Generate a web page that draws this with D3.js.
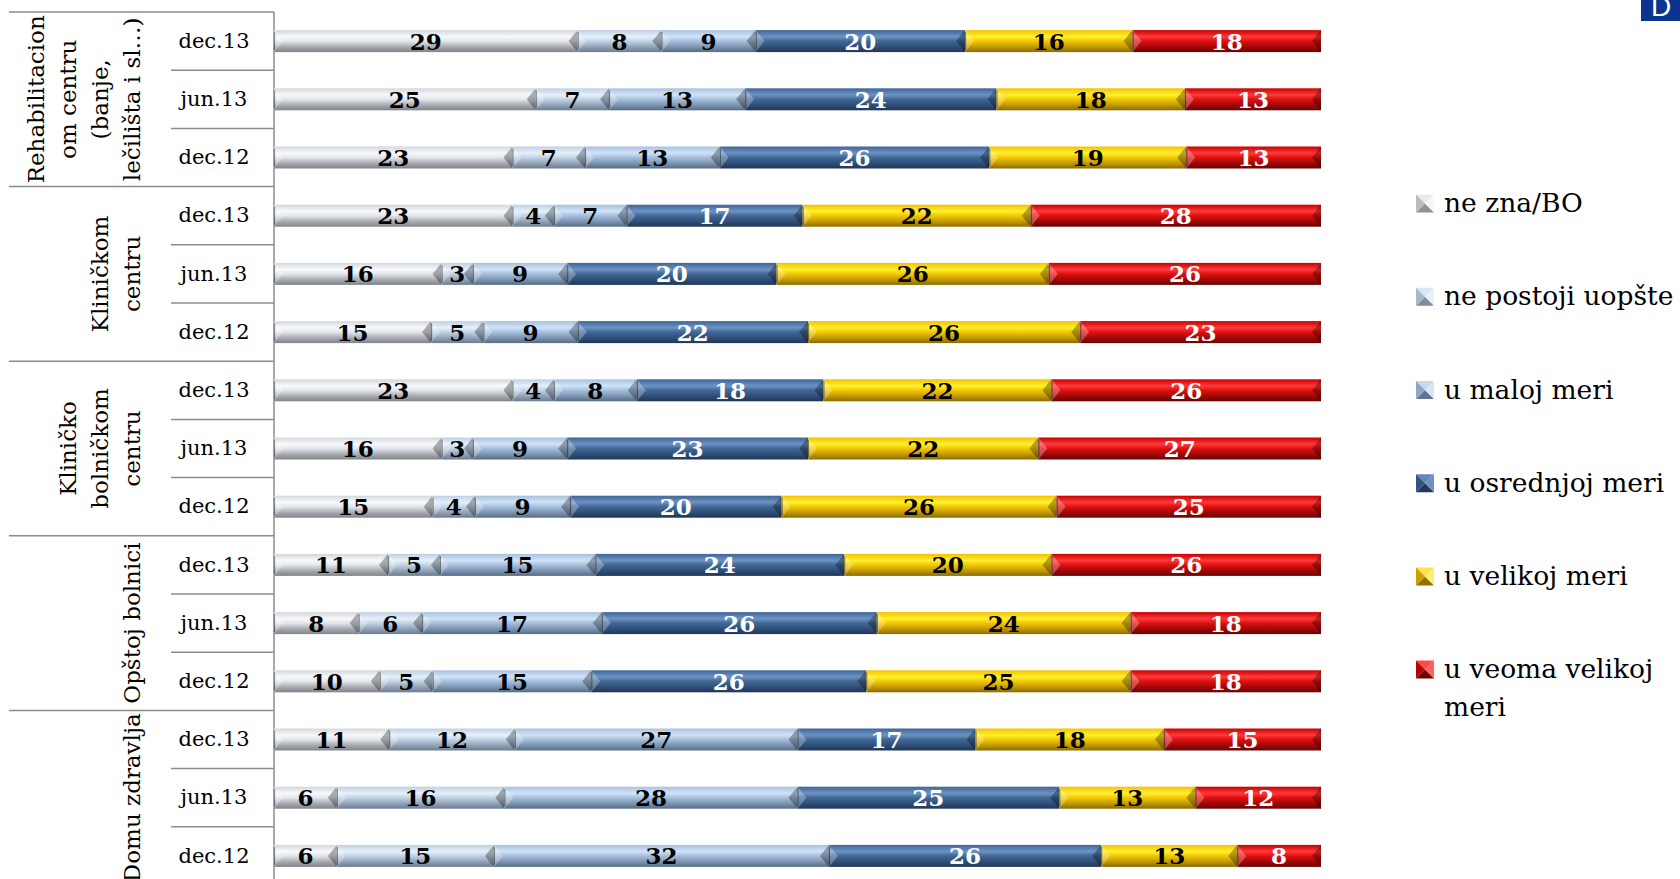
<!DOCTYPE html>
<html><head><meta charset="utf-8">
<script src="https://cdn.jsdelivr.net/npm/d3@7"></script>
<style>body{margin:0;background:#fff;overflow:hidden} svg{display:block}</style>
</head><body>
<svg id="c" width="1680" height="879"></svg>
<script>
// ---------- data ----------
const groupLabels = [
  ["Rehabilitacion","om centru","(banje,","lečilišta i sl…)"],
  ["Kliničkom","centru"],
  ["Kliničko","bolničkom","centru"],
  ["Opštoj bolnici"],
  ["Domu zdravlja"]
];
const periods = ["dec.13","jun.13","dec.12"];
const seriesNames = ["ne zna/BO","ne postoji uopšte","u maloj meri","u osrednjoj meri","u velikoj meri","u veoma velikoj meri"];
const neZna        = [29,25,23, 23,16,15, 23,16,15, 11, 8,10, 11, 6, 6];
const nePostoji    = [ 8, 7, 7,  4, 3, 5,  4, 3, 4,  5, 6, 5, 12,16,15];
const maloj        = [ 9,13,13,  7, 9, 9,  8, 9, 9, 15,17,15, 27,28,32];
const osrednjoj    = [20,24,26, 17,20,22, 18,23,20, 24,26,26, 17,25,26];
const velikoj      = [16,18,19, 22,26,26, 22,22,26, 20,24,25, 18,13,13];
const veomaVelikoj = [18,13,13, 28,26,23, 26,27,25, 26,18,18, 15,12, 8];
const seriesValues = [neZna, nePostoji, maloj, osrednjoj, velikoj, veomaVelikoj];

// ---------- style ----------
const gradStops = [
  ["#d3d7dc","#f7f9fc","#e3e6ea","#a4a8ae","#7f838a"],
  ["#bfd0e3","#e6f0fa","#c3d3e6","#8fa0b4","#6b7c91"],
  ["#a9c1de","#d0e3f7","#a5bfdd","#7a92ae","#566c86"],
  ["#3f6697","#6c93c4","#416894","#2e4d76","#203656"],
  ["#f2c200","#fff030","#f3c800","#c09600","#8a6c00"],
  ["#c80000","#ff3a3a","#e01010","#9c0808","#6a0404"]
];
const labelColors = ["#000","#000","#000","#fff","#000","#fff"];
const legendFaces = [
  ["#e9ecef","#8e9399","#f4f6f8","#b9bdc2"],
  ["#dbe7f3","#7f8fa3","#e8f0f8","#a9b9cc"],
  ["#c5d8ee","#5f7692","#d6e5f4","#8ea7c5"],
  ["#5f88bb","#22395a","#6a92c2","#34547e"],
  ["#ffe14a","#8f7000","#fff06a","#c9a000"],
  ["#ff4a4a","#6e0404","#ff6060","#b00808"]
];

const W = 1680, H = 879;
const tableLeft = 9, periodLeft = 171, axisX = 274, barRight = 1321;
const topY = 12, rowStep = 58.2, barH = 22;

const rows = [];
groupLabels.forEach((g,gi)=>periods.forEach((p,pi)=>{
  const i = gi*3+pi;
  const r = {id:i, group:gi, period:p};
  seriesNames.forEach((s,si)=> r[s] = seriesValues[si][i]);
  rows.push(r);
}));

const svg = d3.select("#c");
const defs = svg.append("defs");
gradStops.forEach((st,i)=>{
  const g = defs.append("linearGradient").attr("id","g"+i).attr("x1",0).attr("x2",0).attr("y1",0).attr("y2",1);
  [0,0.3,0.5,0.78,1].forEach((o,k)=> g.append("stop").attr("offset",o).attr("stop-color",st[k]));
});

const y = d3.scaleBand().domain(rows.map(r=>r.id)).range([topY, topY+rows.length*rowStep]).padding(0);
const x = d3.scaleLinear().domain([0,1]).range([axisX, barRight]);
const stacked = d3.stack().keys(seriesNames).offset(d3.stackOffsetExpand)(rows);

// ---------- table lines ----------
const lineColor = "#8c8c8c";
const tbl = svg.append("g").attr("stroke",lineColor).attr("stroke-width",1.5);
tbl.append("line").attr("x1",tableLeft).attr("x2",axisX).attr("y1",topY).attr("y2",topY);
rows.slice(1).forEach(r=>{
  const yy = y(r.id);
  tbl.append("line").attr("x1", r.id%3===0 ? tableLeft : periodLeft).attr("x2",axisX).attr("y1",yy).attr("y2",yy);
});

// ---------- period labels via axis ----------
const ax = svg.append("g").attr("transform",`translate(${axisX},0)`)
  .call(d3.axisLeft(y).tickSize(0).tickFormat(id=>rows[id].period));
ax.select(".domain").attr("stroke",lineColor).attr("stroke-width",1.5).attr("d",`M0,${topY}V${H}`);
ax.selectAll("text").attr("x",-60).attr("text-anchor","middle")
  .attr("font-family","DejaVu Serif").attr("font-size",21).attr("fill","#000");

// ---------- group labels ----------
groupLabels.forEach((lines,gi)=>{
  const cy = y(gi*3) + rowStep*1.5;
  lines.forEach((t,k)=>{
    const cx = 132 - (lines.length-1-k)*32;
    svg.append("text").attr("transform",`translate(${cx},${cy}) rotate(-90)`)
      .attr("text-anchor","middle").attr("dominant-baseline","central")
      .attr("font-family","DejaVu Serif").attr("font-size",23).attr("fill","#000").text(t);
  });
});

// ---------- bars ----------
const bev = 9;
stacked.forEach((layer,si)=>{
  const lg = svg.append("g");
  layer.forEach(d=>{
    const x0 = x(d[0]), x1 = x(d[1]);
    const y0 = y(d.data.id) + (y.bandwidth()-barH)/2, y1 = y0+barH, ym = (y0+y1)/2;
    const b = Math.min(bev,(x1-x0)/2);
    lg.append("rect").attr("x",x0).attr("y",y0).attr("width",x1-x0).attr("height",barH).attr("fill",`url(#g${si})`);
    lg.append("path").attr("d",`M${x0},${y0}L${x0+b},${ym}L${x0},${y1}Z`).attr("fill","#fff").attr("fill-opacity",0.28);
    lg.append("path").attr("d",`M${x1},${y0}L${x1-b},${ym}L${x1},${y1}Z`).attr("fill","#000").attr("fill-opacity",0.3);
    lg.append("line").attr("x1",x0+0.5).attr("x2",x0+0.5).attr("y1",y0+2).attr("y2",y1-2).attr("stroke","#000").attr("stroke-opacity",0.45).attr("stroke-width",1.2);
  });
});
// labels
stacked.forEach((layer,si)=>{
  svg.append("g").selectAll("text").data(layer).join("text")
    .attr("x",d=>(x(d[0])+x(d[1]))/2)
    .attr("y",d=>y(d.data.id)+y.bandwidth()/2+8.5)
    .attr("text-anchor","middle").attr("font-family","DejaVu Serif").attr("font-weight","bold")
    .attr("font-size",23).attr("fill",labelColors[si])
    .text(d=>d.data[seriesNames[si]]);
});

// ---------- legend ----------
const legX = 1416, legTextX = 1444, legY0 = 203.6, legStep = 93.2, sq = 18;
seriesNames.forEach((name,i)=>{
  const cy = legY0 + i*legStep;
  const g = svg.append("g").attr("transform",`translate(${legX},${cy-sq/2})`);
  const f = legendFaces[i];
  const c = sq/2;
  g.append("path").attr("d",`M0,0L${sq},0L${c},${c}Z`).attr("fill",f[0]);
  g.append("path").attr("d",`M0,${sq}L${sq},${sq}L${c},${c}Z`).attr("fill",f[1]);
  g.append("path").attr("d",`M${sq},0L${sq},${sq}L${c},${c}Z`).attr("fill",f[2]);
  g.append("path").attr("d",`M0,0L0,${sq}L${c},${c}Z`).attr("fill",f[3]);
  const t = svg.append("text").attr("x",legTextX).attr("y",cy+8.5)
    .attr("font-family","DejaVu Serif").attr("font-size",26.5).attr("fill","#000");
  const words = name === "u veoma velikoj meri" ? ["u veoma velikoj","meri"] : [name];
  words.forEach((w,k)=> t.append("tspan").attr("x",legTextX).attr("dy",k?38:0).text(w));
});

// ---------- corner badge ----------
svg.append("rect").attr("x",1641).attr("y",0).attr("width",39).attr("height",21).attr("fill","#0b338f");
svg.append("text").attr("x",1651).attr("y",16).attr("font-family","Liberation Sans").attr("font-size",28).attr("fill","#fff").text("D");
</script>
</body></html>
